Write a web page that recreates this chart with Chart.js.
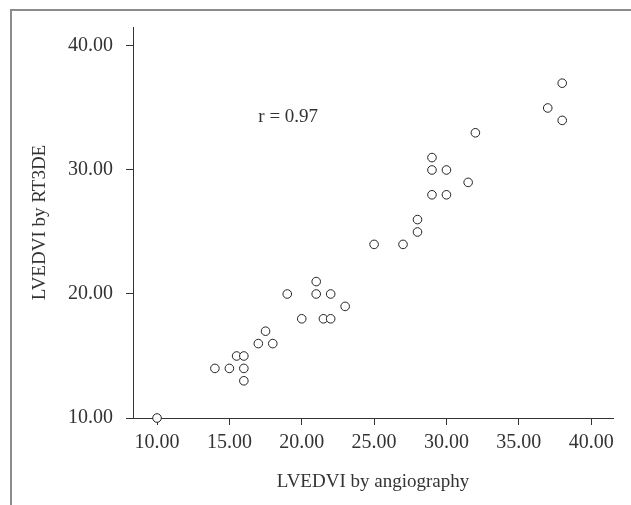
<!DOCTYPE html>
<html>
<head>
<meta charset="utf-8">
<script src="https://cdn.jsdelivr.net/npm/chart.js"></script>
<style>
body{margin:0;background:#fff;}
#wrap{position:relative;width:631px;height:505px;}
#frame{position:absolute;left:10px;top:9px;width:640px;height:520px;border-top:2px solid #8c8c8c;border-left:2px solid #8c8c8c;}
canvas{position:absolute;left:0;top:0;}
</style>
</head>
<body>
<div id="wrap">
  <div id="frame"></div>
  <canvas id="myScatter" width="631" height="505"></canvas>
</div>
<script>
// values
var angiography=[10,14,15,16,15.5,16,16,17,17.5,18,19,20,21,21,22,21.5,22,23,25,27,28,28,29,30,31.5,29,30,29,32,37,38,38];
var rt3de=[10,14,14,14,15,15,13,16,17,16,20,18,21,20,20,18,18,19,24,24,25,26,28,28,29,30,30,31,33,35,34,37];
var xTicks=[10,15,20,25,30,35,40];
var yTicks=[10,20,30,40];
var xTitle='LVEDVI by angiography';
var yTitle='LVEDVI by RT3DE';
var rLabel='r = 0.97';

var points=[];
for(var i in angiography){
  points.push({x:angiography[i],y:rt3de[i]});
};

var serif="'Liberation Serif', 'DejaVu Serif', serif";
var ink='#333333';

var rText={
  id:'rText',
  afterDatasetsDraw:function(chart){
    var c=chart.ctx;
    c.save();
    c.font='19px '+serif;
    c.fillStyle=ink;
    c.textAlign='left';
    c.textBaseline='middle';
    c.fillText(rLabel,chart.scales.x.getPixelForValue(17),chart.scales.y.getPixelForValue(34.3));
    c.restore();
  }
};

var ctx=document.getElementById('myScatter');
var scatter=new Chart(ctx,{
  type:'scatter',
  data:{
    datasets:[
      {
        label:'LVEDVI',
        data:points,
        clip:false,
        pointStyle:'circle',
        pointRadius:4.3,
        pointHoverRadius:4.3,
        backgroundColor:'#ffffff',
        borderColor:'#222222',
        borderWidth:1
      }
    ]
  },
  plugins:[rText],
  options:{
    responsive:false,
    animation:false,
    layout:{padding:{top:27,right:18,left:0,bottom:0}},
    plugins:{legend:{display:false},tooltip:{enabled:false}},
    scales:{
      x:{
        type:'linear',
        min:8.34,
        max:41.51,
        afterBuildTicks:function(s){s.ticks=xTicks.map(function(v){return {value:v};});},
        afterFit:function(s){s.height=87;},
        grid:{drawOnChartArea:false,drawTicks:true,tickLength:7,color:ink},
        border:{display:true,color:ink,width:1},
        ticks:{color:ink,padding:6,font:{family:serif,size:20},maxRotation:0,callback:function(v){return v.toFixed(2);}},
        title:{display:true,text:xTitle,color:ink,font:{family:serif,size:19},padding:{top:0,bottom:12}}
      },
      y:{
        type:'linear',
        min:10,
        max:41.53,
        afterBuildTicks:function(s){s.ticks=yTicks.map(function(v){return {value:v};});},
        afterFit:function(s){s.width=133;},
        grid:{drawOnChartArea:false,drawTicks:true,tickLength:7,color:ink},
        border:{display:true,color:ink,width:1},
        ticks:{color:ink,padding:13,font:{family:serif,size:20},callback:function(v){return v.toFixed(2);}},
        title:{display:true,text:yTitle,color:ink,font:{family:serif,size:19},padding:{top:29,bottom:0}}
      }
    }
  }
});
</script>
</body>
</html>
